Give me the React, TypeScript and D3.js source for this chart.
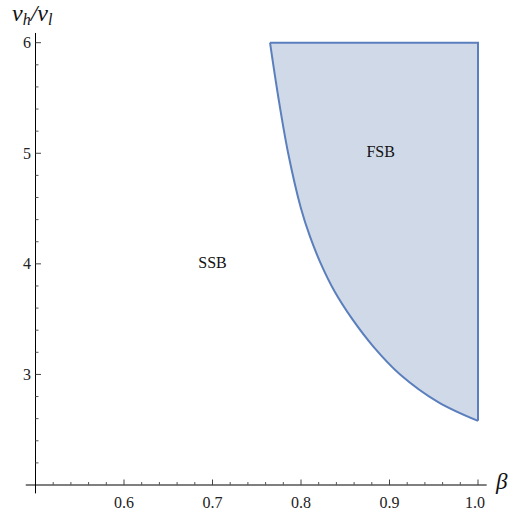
import React from "react";
import * as d3 from "d3";

// boundary curve (from top at ratio 6 down to beta = 1)
const curveRatio = [6.0, 5.5, 5.0, 4.5, 4.25, 4.0, 3.75, 3.5, 3.25, 3.0, 2.75, 2.58];
const curveBeta = [0.765, 0.7745, 0.7855, 0.8, 0.81, 0.8225, 0.838, 0.858, 0.882, 0.912, 0.955, 1.0];
const topRatio = 6.0;
const rightBeta = 1.0;

const xMajorTicks = [0.6, 0.7, 0.8, 0.9, 1.0];
const xTickLabels = ["0.6", "0.7", "0.8", "0.9", "1.0"];
const yMajorTicks = [3, 4, 5, 6];
const yTickLabels = ["3", "4", "5", "6"];

const regionLabels = ["SSB", "FSB"];
const regionLabelBeta = [0.7, 0.89];
const regionLabelRatio = [3.96, 4.97];

const FONT = "Liberation Serif";

export default function App() {
  const x = d3.scaleLinear().domain([0.5, 1.0]).range([35.5, 478]);
  const y = d3.scaleLinear().domain([2, 6]).range([485, 42.7]);

  const pts: [number, number][] = curveBeta.map((b, i) => [b, curveRatio[i]]);
  const line = d3
    .line<[number, number]>()
    .x((d) => x(d[0]))
    .y((d) => y(d[1]))
    .curve(d3.curveCatmullRom.alpha(0.5));
  const curvePath = line(pts) || "";
  const last = pts.length - 1;
  const regionPath =
    curvePath + `L${x(rightBeta)},${y(curveRatio[last])}L${x(rightBeta)},${y(topRatio)}Z`;

  const xMinor = d3
    .range(0, 26)
    .map((i) => 0.5 + i * 0.02)
    .filter((v) => Math.abs(v * 10 - Math.round(v * 10)) > 0.01);
  const yMinor = d3
    .range(0, 21)
    .map((i) => 2 + i * 0.2)
    .filter((v) => Math.abs(v - Math.round(v)) > 0.01);

  const axisX0 = x(0.5);
  const axisY0 = y(2);
  const ts = { fontFamily: FONT };

  return (
    <svg width={514} height={516} style={{ position: "absolute", left: 0, top: 0 }}>
      <rect width={514} height={516} fill="white" />
      <path d={regionPath} fill="#cfd9e8" stroke="none" />
      <path
        d={`M${x(rightBeta)},${y(curveRatio[last])}L${x(rightBeta)},${y(topRatio)}L${x(curveBeta[0])},${y(topRatio)}`}
        fill="none"
        stroke="#5b7fbd"
        strokeWidth={2}
      />
      <path d={curvePath} fill="none" stroke="#5b7fbd" strokeWidth={2} />

      {/* x axis */}
      <line x1={x(0.489)} x2={x(1.0098)} y1={axisY0} y2={axisY0} stroke="#000" strokeWidth={1} />
      {xMinor.map((v, i) => (
        <line key={"xm" + i} x1={x(v)} x2={x(v)} y1={axisY0} y2={axisY0 - 3} stroke="#555" strokeWidth={1} />
      ))}
      {xMajorTicks.map((v, i) => (
        <g key={"xM" + i}>
          <line x1={x(v)} x2={x(v)} y1={axisY0} y2={axisY0 - 5.5} stroke="#444" strokeWidth={1} />
          <text
            x={x(v) - (i === xMajorTicks.length - 1 ? 3 : 0)}
            y={508}
            textAnchor="middle"
            fontSize={16}
            fill="#222"
            style={ts}
          >
            {xTickLabels[i]}
          </text>
        </g>
      ))}

      {/* y axis */}
      <line x1={axisX0} x2={axisX0} y1={y(6.088)} y2={y(1.924)} stroke="#000" strokeWidth={1} />
      {yMinor.map((v, i) => (
        <line key={"ym" + i} x1={axisX0} x2={axisX0 + 3} y1={y(v)} y2={y(v)} stroke="#555" strokeWidth={1} />
      ))}
      {yMajorTicks.map((v, i) => (
        <g key={"yM" + i}>
          <line x1={axisX0} x2={axisX0 + 5.5} y1={y(v)} y2={y(v)} stroke="#444" strokeWidth={1} />
          <text x={31} y={y(v) + 5.5} textAnchor="end" fontSize={16} fill="#222" style={ts}>
            {yTickLabels[i]}
          </text>
        </g>
      ))}

      {/* axis labels */}
      <text x={12} y={21} fontSize={24} fontStyle="italic" fill="#111" style={ts}>
        <tspan>v</tspan>
        <tspan fontSize={16} dy={4}>h</tspan>
        <tspan dy={-4}>/</tspan>
        <tspan>v</tspan>
        <tspan fontSize={16} dy={4}>l</tspan>
      </text>
      <text x={496} y={489} fontSize={23} fontStyle="italic" fill="#111" style={ts}>
        β
      </text>

      {regionLabels.map((t, i) => (
        <text
          key={t}
          x={x(regionLabelBeta[i])}
          y={y(regionLabelRatio[i])}
          textAnchor="middle"
          fontSize={16}
          fill="#111"
          style={ts}
        >
          {t}
        </text>
      ))}
    </svg>
  );
}
